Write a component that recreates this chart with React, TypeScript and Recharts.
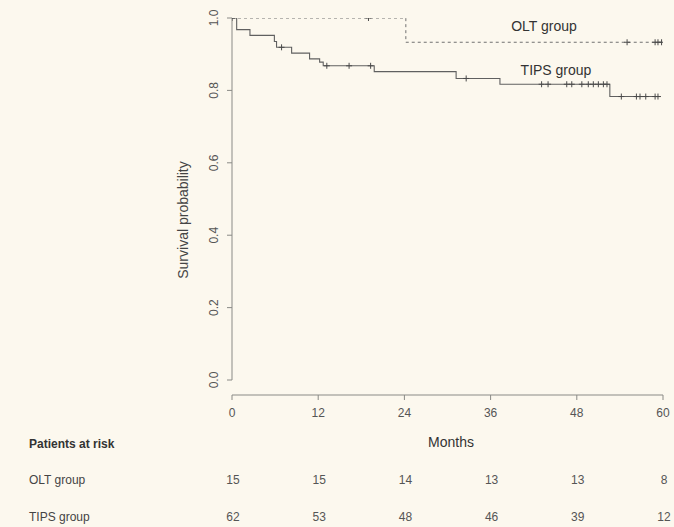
import React from 'react';
import { ComposedChart, Line, Scatter, XAxis, YAxis, ReferenceLine } from 'recharts';

// Kaplan-Meier step points (months, survival probability)
const tipsStepTimes = [0, 0.65, 2.5, 5.9, 6.2, 8.3, 10.8, 12.2, 12.7, 19.8, 31.2, 37.3, 52.6, 59.6];
const tipsStepSurv = [1, 0.968, 0.952, 0.935, 0.919, 0.903, 0.887, 0.878, 0.868, 0.852, 0.833, 0.817, 0.783, 0.783];
const tipsCensorTimes = [6.9, 13.2, 16.3, 19.3, 32.6, 43.1, 44.0, 46.6, 47.3, 48.7, 49.6, 50.3, 51.0, 51.7, 52.2, 54.2, 56.3, 56.8, 57.6, 58.9, 59.3];

const oltStepTimes = [0, 24.2, 59.8];
const oltStepSurv = [1, 0.933, 0.933];
const oltCensorTimes = [0, 19.0, 55.0, 58.9, 59.3, 59.8];

const xTicks = [0, 12, 24, 36, 48, 60];
const yTicks = [0, 0.2, 0.4, 0.6, 0.8, 1.0];

const riskGroups = ['OLT group', 'TIPS group'];
const oltAtRisk = [15, 15, 14, 13, 13, 8];
const tipsAtRisk = [62, 53, 48, 46, 39, 12];

const toSeries = (times: number[], surv: number[]) => times.map((t, i) => ({ t, s: surv[i] }));
const survAt = (times: number[], surv: number[], t: number) => {
  let v = surv[0];
  for (let i = 0; i < times.length; i++) if (times[i] <= t) v = surv[i];
  return v;
};
const censorSeries = (ct: number[], times: number[], surv: number[]) =>
  ct.map((t) => ({ t, s: survAt(times, surv, t) }));

const tipsLine = toSeries(tipsStepTimes, tipsStepSurv);
const oltLine = toSeries(oltStepTimes, oltStepSurv);
const tipsCensor = censorSeries(tipsCensorTimes, tipsStepTimes, tipsStepSurv);
const oltCensor = censorSeries(oltCensorTimes, oltStepTimes, oltStepSurv);

const FONT = '"Liberation Sans", Arial, Helvetica, sans-serif';
const BG = '#fcf8ee';
const AXIS = '#8a8a86';

const Cross = (color: string) => (props: any) => {
  const { cx, cy } = props;
  return <path d={`M${cx - 3},${cy}h6M${cx},${cy - 3}v6`} stroke={color} strokeWidth={1} fill="none" />;
};

const YTick = (props: any) => {
  const { x, y, payload } = props;
  const cx = x - 13;
  return (
    <text x={cx} y={y} transform={`rotate(-90 ${cx} ${y})`} textAnchor="middle" dominantBaseline="central"
      fontSize={12} fill="#555" fontFamily={FONT}>
      {Number(payload.value).toFixed(1)}
    </text>
  );
};

export default function App() {
  const W = 674;
  const H = 527;
  const plotLeft = 232;
  const plotRight = 663;
  const colX = xTicks.map((t) => plotLeft + ((plotRight - plotLeft) * t) / 60);
  return (
    <div style={{ position: 'absolute', left: 0, top: 0, width: W, height: H, background: BG, overflow: 'hidden' }}>
      <ComposedChart width={W} height={H} margin={{ top: 18, right: 11, left: 172, bottom: 102 }}>
        <XAxis type="number" dataKey="t" domain={[0, 60]} ticks={xTicks} allowDataOverflow
          stroke={AXIS} tickSize={5} tickMargin={8}
          tick={{ fontSize: 12, fill: '#555', fontFamily: FONT }} height={30} />
        <YAxis type="number" dataKey="s" domain={[-0.0414, 1]} ticks={yTicks} allowDataOverflow
          axisLine={false} tickLine={{ stroke: AXIS }} stroke={AXIS} tickSize={5} tickMargin={0}
          tick={<YTick />} width={60} />
        <ReferenceLine segment={[{ x: 0, y: 0 }, { x: 0, y: 1 }]} stroke={AXIS} ifOverflow="visible" />
        <Line data={oltLine} dataKey="s" type="stepAfter" stroke="#707070" strokeWidth={1} strokeDasharray="3 3"
          dot={false} isAnimationActive={false} />
        <Line data={tipsLine} dataKey="s" type="stepAfter" stroke="#606060" strokeWidth={1.1}
          dot={false} isAnimationActive={false} />
        <Scatter data={oltCensor} dataKey="s" shape={Cross('#4a4a4a')} isAnimationActive={false} />
        <Scatter data={tipsCensor} dataKey="s" shape={Cross('#4a4a4a')} isAnimationActive={false} />
      </ComposedChart>
      <svg width={W} height={H} style={{ position: 'absolute', left: 0, top: 0, pointerEvents: 'none' }}>
        <g fontFamily={FONT}>
          <text x={544} y={26} textAnchor="middle" dominantBaseline="central" fontSize={14} fill="#333">OLT group</text>
          <text x={556} y={70} textAnchor="middle" dominantBaseline="central" fontSize={14} fill="#333">TIPS group</text>
          <text x={183} y={220} transform="rotate(-90 183 220)" textAnchor="middle" dominantBaseline="central"
            fontSize={14} fill="#444">Survival probability</text>
          <text x={451} y={442} textAnchor="middle" dominantBaseline="central" fontSize={14} fill="#333">Months</text>
          <text x={29} y={444} dominantBaseline="central" fontSize={12} fontWeight="bold" fill="#333">Patients at risk</text>
          <text x={29} y={480} dominantBaseline="central" fontSize={12} fill="#444">{riskGroups[0]}</text>
          <text x={29} y={517} dominantBaseline="central" fontSize={12} fill="#444">{riskGroups[1]}</text>
          {oltAtRisk.map((v, i) => (
            <text key={'o' + i} x={colX[i] + 1} y={480} textAnchor="middle" dominantBaseline="central" fontSize={12} fill="#555">{v}</text>
          ))}
          {tipsAtRisk.map((v, i) => (
            <text key={'t' + i} x={colX[i] + 1} y={517} textAnchor="middle" dominantBaseline="central" fontSize={12} fill="#555">{v}</text>
          ))}
        </g>
      </svg>
    </div>
  );
}
